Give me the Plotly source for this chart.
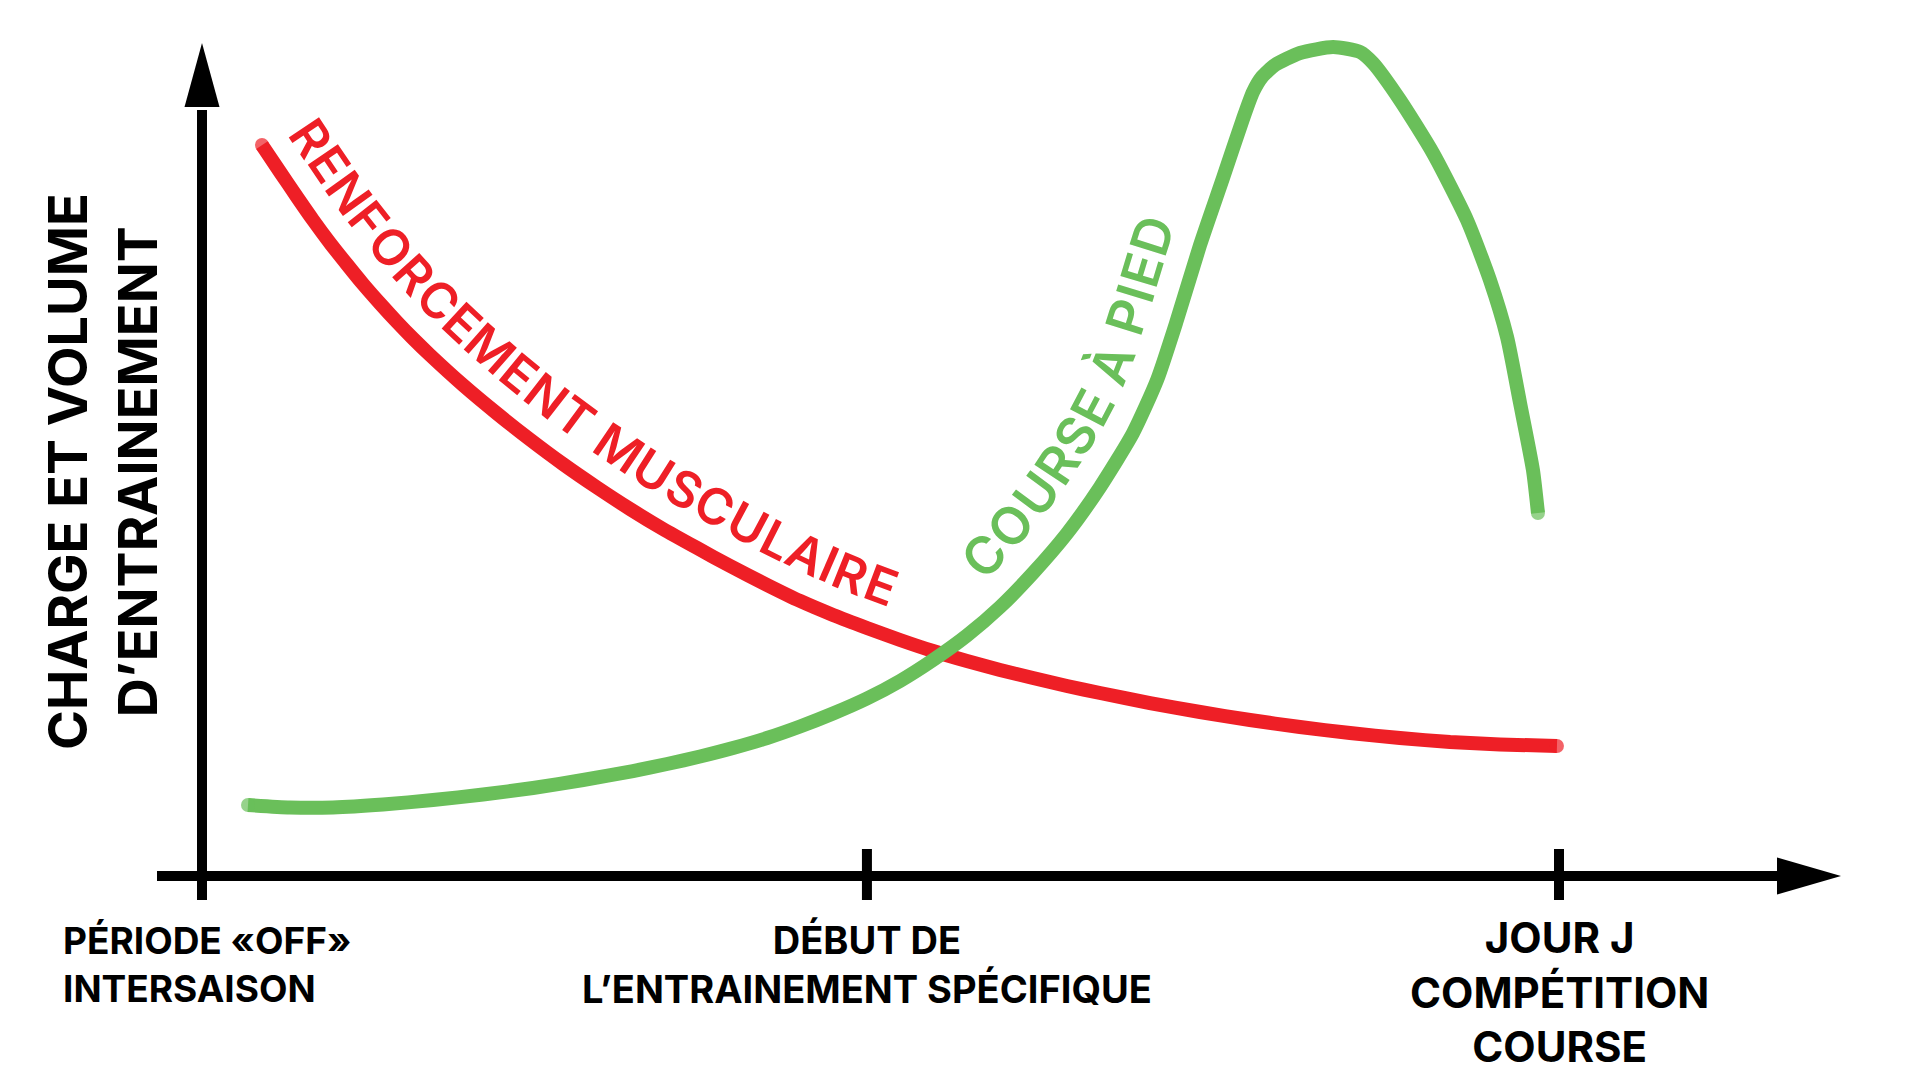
import numpy as np
import plotly.graph_objects as go

# ---------------- data ----------------
# x: position in the season timeline (0 = off-season, 49 = start of specific training, 100 = race day)
# y: relative training load / volume
TICK_POS = [0, 49, 100]
TICK_LABELS = [
    "PÉRIODE «OFF»<br>INTERSAISON",
    "DÉBUT DE<br>L’ENTRAINEMENT SPÉCIFIQUE",
    "JOUR J<br>COMPÉTITION<br>COURSE",
]
Y_TITLE = "CHARGE ET VOLUME<br>D’ENTRAINEMENT"

RENFO_NAME = "RENFORCEMENT MUSCULAIRE"
RENFO_X = [4.42, 5.75, 7.00, 8.18, 9.43, 10.69, 11.86, 13.12, 14.37, 15.55, 16.80, 19.23,
           21.74, 24.17, 26.60, 29.11, 31.54, 33.97, 36.48, 38.91, 41.64, 44.07, 46.50,
           49.00, 51.44, 53.87, 56.37, 58.81, 61.24, 63.74, 66.18, 69.86, 73.55, 77.23,
           80.91, 84.60, 88.28, 91.97, 95.65, 99.85]
RENFO_Y = [86.20, 83.02, 80.07, 77.36, 74.65, 72.11, 69.81, 67.51, 65.33, 63.38, 61.44, 57.90,
           54.54, 51.47, 48.58, 45.81, 43.28, 40.92, 38.68, 36.56, 34.32, 32.43, 30.78,
           29.25, 27.83, 26.53, 25.35, 24.29, 23.35, 22.41, 21.58, 20.40, 19.34, 18.40,
           17.57, 16.86, 16.27, 15.80, 15.51, 15.33]

COURSE_NAME = "COURSE À PIED"
COURSE_X = [3.39, 6.48, 9.65, 13.34, 17.02, 20.71, 24.39, 28.08, 31.76, 34.27, 36.70, 39.13,
            41.64, 44.07, 46.50, 49.00, 51.44, 53.87, 56.37, 58.81, 61.24, 63.74, 66.18,
            68.61, 70.38, 71.85, 73.55, 75.24, 76.71, 77.45, 78.11, 79.07, 80.91, 83.35,
            85.34, 86.29, 88.28, 90.71, 93.22, 94.91, 96.17, 97.13, 98.08, 98.45]
COURSE_Y = [8.37, 8.08, 8.08, 8.43, 8.96, 9.61, 10.38, 11.32, 12.38, 13.21, 14.09, 15.09,
            16.27, 17.63, 19.16, 20.93, 23.00, 25.47, 28.36, 31.72, 35.73, 40.39, 45.87,
            52.24, 58.49, 65.57, 74.41, 82.31, 89.27, 92.45, 94.22, 95.64, 97.05, 97.76,
            97.17, 95.87, 91.51, 85.26, 77.36, 70.28, 63.56, 55.78, 47.88, 42.81]

# ---------------- style / layout ----------------
W, H = 1920, 1080
PX_X0, PX_PER_X = 202.0, 13.57     # pixel of x=0, pixels per x unit
PX_Y0, PX_PER_Y = 876.0, 8.48      # pixel of y=0, pixels per y unit
RED = "#EE1F26"
GREEN = "#6ABF5A"
LINE_W = 14
FONT = "Inter"


def dx(px):  # pixel -> data x
    return (px - PX_X0) / PX_PER_X


def dy(py):  # pixel -> data y
    return (PX_Y0 - py) / PX_PER_Y


def to_px(xs, ys):
    return np.column_stack([PX_X0 + np.asarray(xs) * PX_PER_X, PX_Y0 - np.asarray(ys) * PX_PER_Y])


def catmull(P, n=16):
    P = np.asarray(P, float)
    ext = np.vstack([2 * P[0] - P[1], P, 2 * P[-1] - P[-2]])
    out = []
    for i in range(1, len(ext) - 2):
        p0, p1, p2, p3 = ext[i - 1], ext[i], ext[i + 1], ext[i + 2]
        for t in np.linspace(0, 1, n, endpoint=False):
            t2, t3 = t * t, t * t * t
            out.append(0.5 * ((2 * p1) + (-p0 + p2) * t + (2 * p0 - 5 * p1 + 4 * p2 - p3) * t2
                              + (-p0 + 3 * p1 - 3 * p2 + p3) * t3))
    out.append(P[-1])
    return np.array(out)


EM = {"A": .70, "B": .64, "C": .71, "D": .72, "E": .58, "F": .55, "G": .74, "H": .74, "I": .28,
      "J": .52, "K": .65, "L": .53, "M": .88, "N": .75, "O": .77, "P": .62, "Q": .77, "R": .64,
      "S": .62, "T": .62, "U": .73, "V": .70, "W": .98, "X": .67, "Y": .66, "Z": .63, " ": .27,
      "À": .70, "É": .58}


def curved_text(xs, ys, text, x_start, x_end, offset, fs, color):
    D = catmull(to_px(xs, ys))
    g = np.gradient(D, axis=0)
    th = np.unwrap(np.arctan2(g[:, 1], g[:, 0]))
    up = np.column_stack([np.sin(th), -np.cos(th)])
    O = D + up * offset
    seg = np.hypot(*np.diff(O, axis=0).T)
    arc = np.concatenate([[0], np.cumsum(seg)])
    i0 = int(np.argmax(D[:, 0] >= PX_X0 + x_start * PX_PER_X))
    i1 = int(np.argmax(D[:, 0] >= PX_X0 + x_end * PX_PER_X))
    s0, s1 = arc[i0], arc[i1]
    widths = np.array([EM.get(c, .6) for c in text]) * fs
    k = (s1 - s0) / widths.sum()
    centers = s0 + k * (np.cumsum(widths) - widths / 2)
    anns = []
    for c, s in zip(text, centers):
        if c == " ":
            continue
        px = np.interp(s, arc, O[:, 0])
        py = np.interp(s, arc, O[:, 1])
        t = np.interp(s, arc, th)
        cx = px + np.sin(t) * 0.36 * fs
        cy = py - np.cos(t) * 0.36 * fs
        anns.append(dict(x=dx(cx), y=dy(cy), xref="x", yref="y", text=c, showarrow=False,
                         textangle=float(np.degrees(t)), xanchor="center", yanchor="middle",
                         font=dict(family=FONT, size=fs, color=color, weight=600)))
    return anns


fig = go.Figure()

for xs, ys, col, name in [(RENFO_X, RENFO_Y, RED, RENFO_NAME), (COURSE_X, COURSE_Y, GREEN, COURSE_NAME)]:
    sizes = [0] * len(xs)
    sizes[0] = sizes[-1] = LINE_W
    fig.add_trace(go.Scatter(x=xs, y=ys, mode="lines+markers", name=name,
                             line=dict(color=col, width=LINE_W, shape="spline", smoothing=0.6),
                             marker=dict(size=sizes, color=col, line=dict(width=0)),
                             hoverinfo="skip", showlegend=False))

shapes = []
AX = dict(color="black", width=10)
# x axis line + arrow head
shapes.append(dict(type="line", xref="x", yref="y", x0=dx(157), x1=dx(1780), y0=0, y1=0, line=AX))
shapes.append(dict(type="path", xref="x", yref="y",
                   path=f"M {dx(1777)} {dy(PX_Y0 - 18.5)} L {dx(1841)} 0 L {dx(1777)} {dy(PX_Y0 + 18.5)} Z",
                   fillcolor="black", line=dict(width=0)))
# y axis line + arrow head
shapes.append(dict(type="line", xref="x", yref="y", x0=0, x1=0, y0=dy(900), y1=dy(110), line=AX))
shapes.append(dict(type="path", xref="x", yref="y",
                   path=f"M {dx(PX_X0 - 17.5)} {dy(107)} L 0 {dy(43)} L {dx(PX_X0 + 17.5)} {dy(107)} Z",
                   fillcolor="black", line=dict(width=0)))
# ticks
for tp in TICK_POS[1:]:
    shapes.append(dict(type="line", xref="x", yref="y", x0=tp, x1=tp, y0=dy(849), y1=dy(900), line=AX))

anns = []
# tick labels
anns.append(dict(x=TICK_POS[0], y=dy(964), xref="x", yref="y", text=TICK_LABELS[0], showarrow=False,
                 xanchor="left", xshift=61 - PX_X0, yanchor="middle", align="left",
                 font=dict(family=FONT, size=37, color="black", weight=700)))
anns.append(dict(x=TICK_POS[1], y=dy(964), xref="x", yref="y", text=TICK_LABELS[1], showarrow=False,
                 xanchor="center", yanchor="middle", align="center",
                 font=dict(family=FONT, size=38, color="black", weight=700)))
anns.append(dict(x=TICK_POS[2], y=dy(992), xref="x", yref="y", text=TICK_LABELS[2], showarrow=False,
                 xanchor="center", yanchor="middle", align="center",
                 font=dict(family=FONT, size=42, color="black", weight=700)))
# y title
anns.append(dict(x=dx(102), y=dy(472), xref="x", yref="y", text=Y_TITLE, showarrow=False,
                 textangle=-90, xanchor="center", yanchor="middle", align="center",
                 font=dict(family=FONT, size=54, color="black", weight=700)))

anns += curved_text(RENFO_X, RENFO_Y, RENFO_NAME, x_start=dx(264), x_end=dx(878), offset=27, fs=50, color=RED)
anns += curved_text(COURSE_X, COURSE_Y, COURSE_NAME, x_start=dx(1003), x_end=dx(1203), offset=29, fs=52, color=GREEN)

fig.update_layout(
    width=W, height=H, margin=dict(l=0, r=0, t=0, b=0),
    paper_bgcolor="white", plot_bgcolor="white",
    xaxis=dict(range=[dx(0), dx(W)], visible=False, fixedrange=True),
    yaxis=dict(range=[dy(H), dy(0)], visible=False, fixedrange=True),
    shapes=shapes, annotations=anns, showlegend=False,
)

fig.write_html("out.html", config={"displayModeBar": False},
               post_script="document.body.style.margin='0';document.body.style.overflow='hidden';")
